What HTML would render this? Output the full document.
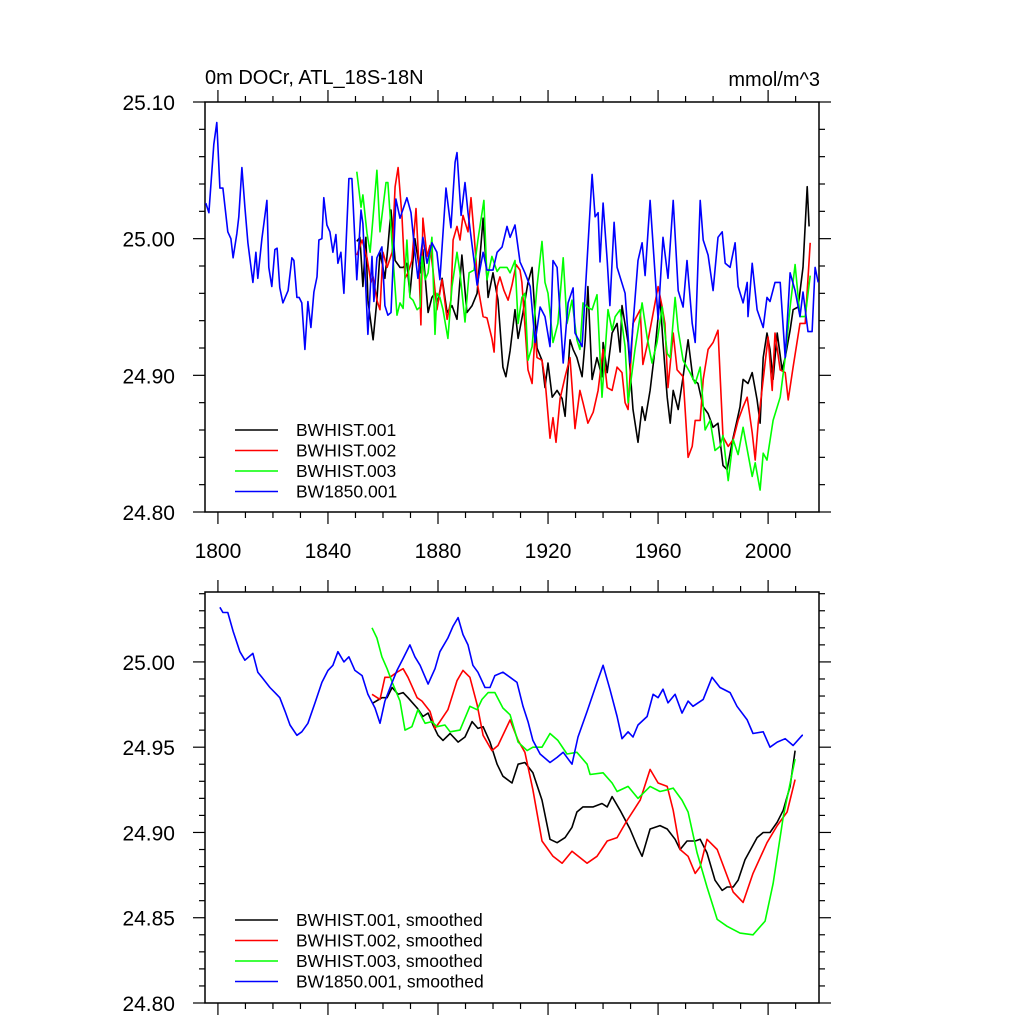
<!DOCTYPE html>
<html><head><meta charset="utf-8"><style>
html,body{margin:0;padding:0;background:#fff;}
svg{display:block;font-family:"Liberation Sans",Arial,sans-serif;}
</style></head><body>
<svg id="chart" width="1024" height="1024" viewBox="0 0 1024 1024" xmlns="http://www.w3.org/2000/svg">
<text x="205" y="84" font-size="20">0m DOCr, ATL_18S-18N</text>
<text x="820" y="86" font-size="20" text-anchor="end">mmol/m^3</text>
<g id="top"></g>
<g id="bot"></g>
</svg>
<script>
// ---- top panel data (annual) ----
const blueYears=[1795.6,1796.7,1798.5,1799.6,1800.7,1801.8,1803.6,1804.7,1805.5,1806.9,1807.6,1808.7,1809.8,1810.9,1812.7,1813.8,1814.5,1816,1817.8,1818.5,1819.6,1820.7,1821.5,1822.5,1823.6,1825.5,1826.9,1827.6,1828.7,1829.5,1830.5,1831.6,1832.7,1833.8,1834.9,1836,1836.7,1837.8,1838.5,1839.6,1840.7,1841.8,1842.9,1843.6,1844.7,1845.8,1847.6,1848.7,1850.5,1852,1852.7,1854.5,1856,1856.7,1857.8,1859.6,1860.7,1861.8,1862.9,1864.7,1866.2,1868.7,1870.2,1871.6,1872.7,1874.5,1876,1877.8,1879.6,1880.7,1882.9,1884.7,1886.2,1886.9,1888.4,1889.8,1890.9,1894.2,1896.4,1897.8,1900,1901.5,1903.3,1905.1,1906.2,1908,1909.8,1911.6,1913.5,1915.3,1917.1,1918.9,1920.7,1921.8,1923.3,1925.5,1927.3,1929.1,1929.8,1932.4,1936,1937.1,1938.2,1938.9,1940,1941.5,1942.5,1944,1945.1,1948,1949.8,1952.7,1954.2,1955.3,1957.1,1960,1961.8,1963.6,1965.5,1967.3,1969.1,1970.5,1972.4,1973.5,1975.3,1976.4,1978.2,1980,1981.8,1983.3,1984.4,1986.2,1988,1989.1,1990.9,1992.4,1992.7,1994.2,1996,1998.2,1999.6,2000.7,2002.5,2004.4,2006.2,2008,2009.8,2011.6,2012.7,2014.5,2016,2017.1,2018.2];
const blueVals=[25.026,25.019,25.069,25.085,25.037,25.037,25.005,25.000,24.986,25.004,25.016,25.052,25.023,24.997,24.968,24.990,24.971,25.000,25.028,24.979,24.965,24.992,24.993,24.964,24.953,24.962,24.986,24.984,24.957,24.957,24.953,24.919,24.954,24.935,24.961,24.972,24.999,25.000,25.030,25.010,25.005,24.990,25.003,24.982,24.990,24.960,25.044,25.044,24.970,25.021,25.011,24.930,24.987,24.954,24.986,24.994,24.951,24.944,24.946,25.029,25.015,25.030,25.019,24.990,24.971,25.001,24.982,24.997,24.990,24.970,25.037,25.008,25.056,25.063,25.017,25.041,25.019,24.966,24.990,24.977,24.977,24.990,24.994,25.009,25.001,25.010,24.983,24.975,24.965,24.924,24.950,24.943,24.921,24.984,24.979,24.909,24.953,24.964,24.931,24.921,25.047,25.016,25.019,24.983,25.026,24.984,24.951,25.012,24.979,24.960,24.909,24.984,24.997,24.973,25.028,24.941,25.001,24.971,25.028,24.962,24.950,24.984,24.938,24.924,25.028,24.999,24.988,24.962,25.001,25.005,24.982,24.979,24.997,24.965,24.953,24.968,24.943,24.982,24.948,24.935,24.957,24.954,24.968,24.968,24.913,24.975,24.962,24.943,24.961,24.932,24.932,24.979,24.968];
const blackYears=[1850.5,1851.6,1852.7,1853.8,1854.5,1856.4,1857.8,1858.9,1860.7,1861.8,1862.9,1864.4,1866.2,1867.3,1868.7,1869.8,1871.6,1873.5,1874.5,1876.4,1877.8,1878.9,1880,1881.5,1883.3,1885.1,1886.9,1888.7,1890.5,1892.4,1894.2,1896.4,1898.2,1900,1901.8,1903.6,1904.7,1906.2,1908,1909.1,1910.9,1912.7,1914.2,1916,1917.8,1918.9,1920,1921.5,1923.3,1925.1,1926.2,1928,1929.1,1930.5,1932.4,1933.5,1934.5,1936,1937.8,1939.6,1940,1941.5,1943.3,1945.1,1946.2,1946.9,1949.1,1950.9,1952.7,1954.2,1955.3,1957.1,1958.9,1960.7,1961.8,1963.3,1964.4,1965.5,1967.3,1969.1,1970.9,1972.7,1974.5,1976.4,1978.2,1980,1981.8,1983.6,1985.1,1986.9,1988.7,1989.8,1990.9,1992.7,1994.2,1996,1997.1,1998.2,1999.6,2000.7,2001.8,2003.3,2005.1,2006.2,2008,2009.1,2010.9,2012.7,2014.2,2014.9];
const blackVals=[24.998,25.001,24.965,25.001,24.955,24.926,24.955,24.990,24.971,24.994,25.021,24.984,24.979,24.979,24.982,24.959,25.000,24.975,24.992,24.946,24.957,24.960,24.954,24.971,24.946,24.951,24.941,24.988,24.946,24.951,24.960,25.015,24.957,24.975,24.955,24.906,24.899,24.918,24.948,24.927,24.946,24.968,24.979,24.920,24.911,24.891,24.909,24.884,24.889,24.883,24.870,24.926,24.919,24.913,24.899,24.926,24.965,24.897,24.913,24.899,24.924,24.902,24.931,24.938,24.917,24.951,24.924,24.875,24.851,24.877,24.867,24.889,24.919,24.957,24.924,24.884,24.865,24.889,24.875,24.899,24.926,24.897,24.894,24.877,24.872,24.862,24.865,24.834,24.831,24.851,24.867,24.877,24.897,24.894,24.902,24.882,24.865,24.913,24.931,24.919,24.897,24.931,24.904,24.913,24.933,24.948,24.950,24.979,25.038,25.009];
const redYears=[1850.5,1852.4,1854.2,1855.6,1856.4,1857.8,1858.9,1860,1861.5,1863.3,1864.4,1865.5,1866.9,1868,1869.1,1870.5,1872,1873.1,1873.8,1874.5,1876,1877.1,1878.2,1879.6,1881.5,1883.3,1884.7,1885.5,1886.9,1888,1889.1,1890.9,1892,1893.1,1894.5,1896.4,1897.8,1899.6,1900.4,1901.5,1902.5,1904,1905.5,1906.9,1908.4,1909.8,1910.5,1912.7,1914.2,1915.3,1916,1917.8,1918.9,1920.7,1921.8,1922.9,1924.4,1926.2,1928,1929.8,1931.6,1932.7,1934.5,1936.4,1938.2,1940,1941.5,1943.3,1945.1,1946.9,1948,1949.1,1950.9,1953.5,1954.5,1956,1957.8,1960,1961.5,1962.5,1963.6,1965.5,1966.9,1969.1,1970.9,1972.4,1973.5,1975.3,1976.4,1978.2,1980,1981.8,1983.6,1985.5,1987.3,1989.1,1990.9,1992.4,1994.2,1995.3,1996.4,1998.2,2000,2001.5,2002.5,2004.4,2006.2,2007.3,2009.1,2011.6,2013.5,2015.3];
const redVals=[24.988,24.999,24.986,24.968,24.972,24.955,24.948,24.990,24.979,24.990,25.038,25.052,25.016,24.971,24.975,24.984,25.022,24.979,24.937,25.015,24.987,24.995,24.977,24.948,24.970,24.941,24.955,24.999,25.009,24.999,25.017,25.005,25.030,25.004,24.965,24.943,24.942,24.927,24.917,24.965,24.972,24.962,24.955,24.966,24.981,24.977,24.968,24.904,24.894,24.931,24.913,24.911,24.897,24.854,24.869,24.851,24.883,24.899,24.913,24.861,24.889,24.880,24.865,24.873,24.889,24.919,24.891,24.889,24.906,24.902,24.880,24.875,24.938,24.948,24.908,24.922,24.941,24.965,24.950,24.938,24.891,24.931,24.904,24.899,24.840,24.848,24.867,24.867,24.897,24.919,24.924,24.933,24.855,24.848,24.853,24.867,24.877,24.884,24.858,24.838,24.865,24.897,24.928,24.889,24.931,24.904,24.902,24.882,24.906,24.938,24.938,24.997];
const greenYears=[1850.5,1852,1852.7,1854.2,1855.3,1856.4,1857.8,1858.9,1860,1861.1,1861.8,1863.6,1865.1,1866.2,1867.3,1868.7,1869.8,1870.9,1872.4,1873.5,1874.2,1875.3,1876.4,1877.8,1878.9,1879.6,1880.7,1881.8,1883.6,1885.1,1886.9,1888,1889.8,1891.3,1893.1,1894.5,1896.7,1897.8,1899.6,1901.5,1902.5,1905.1,1906.2,1908,1909.1,1910.5,1911.6,1912.7,1914.2,1916,1917.8,1918.9,1920,1921.8,1923.6,1925.5,1926.9,1928.7,1930.5,1931.6,1932.7,1934.2,1936,1937.8,1939.6,1941.8,1943.3,1944.4,1946.2,1948,1949.1,1951.6,1954.2,1956,1957.8,1959.6,1961.5,1963.3,1964.4,1966.2,1967.3,1969.1,1971.6,1973.5,1975.3,1977.1,1978.9,1980.7,1982.5,1983.6,1985.5,1987.3,1989.1,1990.9,1994.2,1995.3,1997.1,1998.2,1999.6,2001.8,2004.4,2006.2,2008,2009.8,2011.6,2013.5,2015.3];
const greenVals=[25.049,25.023,25.032,25.004,24.990,25.016,25.050,25.005,25.023,25.041,25.041,24.987,24.944,24.953,24.949,24.999,24.957,24.955,24.948,24.950,24.987,24.970,24.975,25.001,24.930,24.960,24.957,24.948,24.927,24.965,24.990,24.975,24.939,24.975,24.977,24.999,25.028,24.970,24.987,24.976,24.979,24.979,24.975,24.984,24.938,24.957,24.960,24.911,24.921,24.965,24.998,24.968,24.960,24.924,24.938,24.986,24.938,24.955,24.926,24.919,24.953,24.950,24.948,24.959,24.884,24.948,24.933,24.943,24.948,24.921,24.880,24.919,24.953,24.928,24.909,24.924,24.950,24.916,24.913,24.957,24.933,24.911,24.902,24.894,24.906,24.860,24.867,24.845,24.848,24.856,24.823,24.853,24.842,24.862,24.826,24.836,24.816,24.843,24.838,24.867,24.884,24.913,24.950,24.981,24.943,24.943,24.973];
// ---- bottom panel data (smoothed) ----
const sBlueYears=[1800.7,1801.8,1803.6,1805.5,1808,1809.8,1812.7,1814.5,1816,1818.9,1820.7,1822.5,1824.4,1826.2,1828.7,1830.5,1832.7,1835.3,1837.8,1840,1841.8,1843.6,1845.8,1847.6,1849.8,1852.4,1854.5,1857.1,1858.9,1860.7,1863.3,1865.1,1867.3,1869.8,1871.6,1873.5,1876.4,1878.9,1880.7,1883.6,1885.5,1887.3,1889.1,1890.9,1892.7,1894.5,1897.1,1898.9,1900.7,1903.6,1906.2,1908.7,1910.9,1912.7,1914.5,1917.1,1920.7,1923.3,1925.5,1928.7,1930.9,1934.2,1937.8,1940,1942.5,1945.1,1946.9,1949.1,1950.9,1952.7,1956,1958.2,1960,1961.8,1963.6,1966.2,1968.7,1970.9,1972.7,1976.4,1979.6,1982.5,1986.2,1988.7,1992.4,1994.5,1998.2,2000.7,2003.3,2006.2,2009.1,2012.4,2012.7];
const sBlueVals=[25.032,25.029,25.029,25.018,25.006,25.001,25.005,24.994,24.991,24.985,24.982,24.979,24.971,24.963,24.957,24.959,24.964,24.976,24.988,24.995,24.998,25.006,25.000,25.003,24.995,24.992,24.981,24.973,24.964,24.977,24.988,24.995,25.002,25.010,25.003,24.998,24.987,24.996,25.006,25.014,25.021,25.026,25.016,25.010,24.998,24.994,24.985,24.985,24.992,24.994,24.991,24.988,24.974,24.965,24.954,24.946,24.941,24.944,24.947,24.940,24.956,24.971,24.988,24.998,24.984,24.968,24.955,24.959,24.956,24.963,24.968,24.981,24.979,24.984,24.976,24.981,24.970,24.977,24.974,24.978,24.991,24.985,24.982,24.974,24.966,24.958,24.959,24.950,24.953,24.955,24.951,24.957,24.957];
const sBlackYears=[1856.4,1859.6,1861.5,1863.3,1865.5,1867.3,1869.1,1872.4,1874.5,1876.4,1878.2,1880,1881.8,1884.4,1887.3,1889.8,1892.4,1894.5,1896.4,1898.9,1901.5,1903.6,1906.9,1909.1,1911.6,1914.5,1917.8,1920.7,1923.3,1926.2,1928.7,1930.5,1932.7,1936.4,1939.6,1941.5,1943.3,1946.2,1949.8,1952.4,1954.2,1957.1,1960.7,1963.3,1966.2,1968,1970.5,1973.5,1975.3,1977.8,1980.7,1983.3,1985.1,1987.3,1989.1,1991.6,1996,1998.2,2000.7,2003.3,2005.5,2008,2009.8];
const sBlackVals=[24.976,24.979,24.979,24.985,24.981,24.982,24.979,24.973,24.968,24.970,24.963,24.957,24.954,24.958,24.953,24.956,24.965,24.961,24.962,24.953,24.940,24.933,24.929,24.940,24.941,24.935,24.919,24.896,24.894,24.897,24.903,24.912,24.915,24.915,24.917,24.915,24.921,24.913,24.902,24.892,24.886,24.902,24.904,24.902,24.896,24.890,24.895,24.895,24.896,24.888,24.872,24.866,24.868,24.868,24.872,24.884,24.897,24.900,24.900,24.906,24.913,24.927,24.948];
const sRedYears=[1856,1858.9,1860.7,1862.5,1865.1,1867.3,1869.1,1872.4,1874.2,1877.1,1878.9,1880.7,1883.6,1886.9,1889.1,1891.6,1894.2,1896.4,1899.6,1901.8,1906.2,1909.1,1911.6,1914.5,1917.8,1921.8,1925.1,1928.7,1934.2,1937.8,1941.5,1945.1,1948.7,1953.5,1957.1,1960,1963.3,1965.5,1968,1970.9,1973.5,1975.3,1977.8,1981.5,1987.3,1990.9,1994.5,1999.6,2003.3,2006.9,2009.8];
const sRedVals=[24.981,24.978,24.991,24.991,24.994,24.996,24.991,24.979,24.977,24.971,24.961,24.965,24.972,24.989,24.995,24.991,24.975,24.957,24.948,24.951,24.966,24.954,24.947,24.925,24.895,24.886,24.882,24.889,24.882,24.886,24.895,24.897,24.907,24.919,24.937,24.929,24.927,24.913,24.890,24.886,24.876,24.880,24.896,24.890,24.865,24.859,24.876,24.894,24.904,24.912,24.931];
const sGreenYears=[1856,1857.8,1859.6,1861.5,1863.6,1866.2,1868,1870.5,1872.7,1875.3,1877.8,1879.6,1882.5,1884.4,1888,1891.6,1894.2,1896,1898.2,1900.7,1903.6,1906.2,1909.1,1912.4,1914.5,1917.8,1920.7,1923.6,1926.9,1930.5,1934.2,1935.3,1940,1943.3,1945.1,1949.1,1952.7,1957.1,1960.7,1963.3,1965.5,1968.7,1970.9,1974.2,1977.8,1981.5,1985.1,1989.8,1994.5,1998.9,2001.8,2005.5,2009.8];
const sGreenVals=[25.020,25.014,25.003,24.996,24.987,24.977,24.960,24.962,24.972,24.964,24.965,24.962,24.963,24.959,24.960,24.974,24.972,24.978,24.982,24.982,24.973,24.969,24.953,24.948,24.950,24.950,24.958,24.954,24.946,24.947,24.940,24.934,24.935,24.929,24.924,24.927,24.920,24.927,24.924,24.925,24.926,24.919,24.912,24.888,24.868,24.849,24.845,24.841,24.840,24.848,24.870,24.909,24.943];
const xTickLabels=[1800,1840,1880,1920,1960,2000];
const topYTicks=[24.80,24.90,25.00,25.10];
const botYTicks=[24.80,24.85,24.90,24.95,25.00];
const topLegend=["BWHIST.001","BWHIST.002","BWHIST.003","BW1850.001"];
const botLegend=["BWHIST.001, smoothed","BWHIST.002, smoothed","BWHIST.003, smoothed","BW1850.001, smoothed"];
const colors=["#000000","#ff0000","#00ff00","#0000ff"];

const NS="http://www.w3.org/2000/svg";
const X0=205,X1=819,YR0=1795.3,YR1=2018.5;
function xs(yr){return X0+(yr-YR0)/(YR1-YR0)*(X1-X0);}
function mk(tag,attrs,parent){const e=document.createElementNS(NS,tag);for(const k in attrs)e.setAttribute(k,attrs[k]);parent.appendChild(e);return e;}

function panel(g,top,bot,vmin,vmax,yMajor,yMinorStep,yFmt,series,legend,legY,showXLabels,nm){
  const ys=v=>bot-(v-vmin)/(vmax-vmin)*(bot-top);
  const frame=mk('rect',{x:X0,y:top,width:X1-X0,height:bot-top,fill:'none',stroke:'#000','stroke-width':1.5},g);
  
  
  for(let yr=1800;yr<=2010;yr+=10){
    const x=xs(yr),maj=(yr-1800)%40===0,L=maj?12:6;
    const t1=mk('line',{x1:x,x2:x,y1:top,y2:top-L,stroke:'#000','stroke-width':1.2},g);
    
    
    const t2=mk('line',{x1:x,x2:x,y1:bot,y2:bot+L,stroke:'#000','stroke-width':1.2},g);
    
    
  }
  if(showXLabels){
    xTickLabels.forEach(yr=>{
      const t=mk('text',{x:xs(yr),y:bot+46,'font-size':21,'text-anchor':'middle'},g);
      t.textContent=yr;
      
      
    });
  }
  const n=Math.round((vmax-vmin)/yMinorStep);
  for(let i=0;i<=n;i++){
    const v=vmin+i*yMinorStep;const y=ys(v);
    const maj=yMajor.some(m=>Math.abs(m-v)<1e-6);const L=maj?12:6;
    const a=mk('line',{x1:X0,x2:X0-L,y1:y,y2:y,stroke:'#000','stroke-width':1.2},g);
    
    
    const b=mk('line',{x1:X1,x2:X1+L,y1:y,y2:y,stroke:'#000','stroke-width':1.2},g);
    
    
  }
  yMajor.forEach(v=>{
    const t=mk('text',{x:175,y:ys(v)+8,'font-size':21,'text-anchor':'end'},g);
    t.textContent=v.toFixed(yFmt);
    
    
  });
  series.forEach((s,i)=>{
    const d=s[0].map((yr,j)=>(j?'L':'M')+xs(yr).toFixed(1)+','+ys(s[1][j]).toFixed(1)).join('');
    const p=mk('path',{d:d,fill:'none',stroke:colors[i],'stroke-width':1.6,'stroke-linejoin':'round'},g);
    
    
  });
  legend.forEach((lab,i)=>{
    const y=legY+i*20.5;
    const l=mk('line',{x1:235,x2:278,y1:y,y2:y,stroke:colors[i],'stroke-width':1.5},g);
    
    
    const t=mk('text',{x:296,y:y+6,'font-size':17.5},g);
    t.textContent=lab;
    
    
  });
}
panel(document.getElementById('top'),102,512,24.80,25.10,topYTicks,0.02,2,
  [[blackYears,blackVals],[redYears,redVals],[greenYears,greenVals],[blueYears,blueVals]],topLegend,430,true,'top');
panel(document.getElementById('bot'),592,1003,24.80,25.041,botYTicks,0.01,2,
  [[sBlackYears,sBlackVals],[sRedYears,sRedVals],[sGreenYears,sGreenVals],[sBlueYears,sBlueVals]],botLegend,920,false,'bottom');
</script>
</body></html>
